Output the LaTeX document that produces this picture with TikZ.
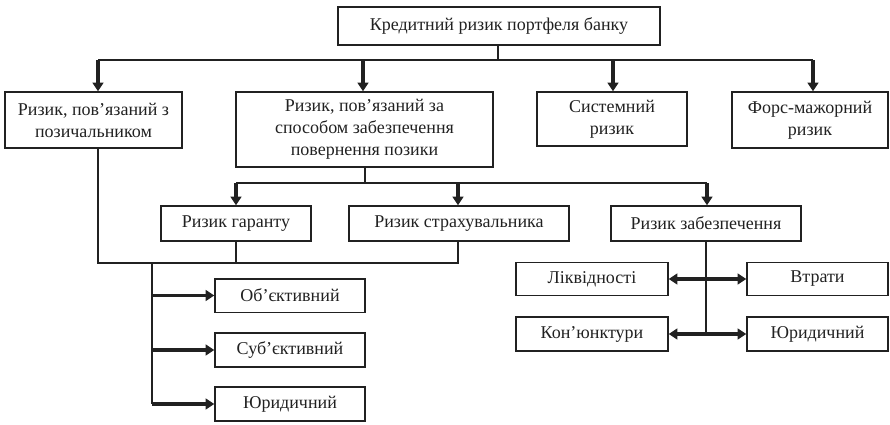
\documentclass[tikz,border=0pt]{standalone}
\usepackage{fontspec}
\setmainfont{Liberation Serif}
\usetikzlibrary{arrows.meta,calc}
\definecolor{LineClr}{rgb}{0.13,0.13,0.13}

\begin{document}
\begin{tikzpicture}[x=0.75pt,y=-0.75pt,
  box/.style={draw=LineClr,line width=1pt,inner sep=0pt,align=center,
    font=\fontsize{13.5}{16.5}\selectfont,text=LineClr},
  link/.style={draw=LineClr,line width=1pt},
  arr/.style={draw=LineClr,line width=2.6pt,-{Triangle[length=6.5pt,width=8pt]}},
  darr/.style={draw=LineClr,line width=2.6pt,{Triangle[length=6.5pt,width=8pt]}-{Triangle[length=6.5pt,width=8pt]}}]
\useasboundingbox (0,0) rectangle (890,425);

\node[box,minimum width=241.5pt,minimum height=28.5pt] (top) at (499,26) {Кредитний ризик портфеля банку};

\node[box,minimum width=132.75pt,minimum height=42pt] (borrow) at (93.5,120) {Ризик, пов'язаний з\\позичальником};
\node[box,minimum width=192.75pt,minimum height=56.25pt] (method) at (364.5,129.5) {Ризик, пов'язаний за\\способом забезпечення\\повернення позики};
\node[box,minimum width=112.5pt,minimum height=40.5pt] (system) at (612,119) {Системний\\ризик};
\node[box,minimum width=117pt,minimum height=42pt] (force) at (810,120) {Форс-мажорний\\ризик};

\node[box,minimum width=112.5pt,minimum height=26.25pt] (guar) at (236,223.5) {Ризик гаранту};
\node[box,minimum width=165pt,minimum height=26.25pt] (insur) at (459,223.5) {Ризик страхувальника};
\node[box,minimum width=142.5pt,minimum height=26.25pt] (secur) at (706,223.5) {Ризик забезпечення};

\node[box,minimum width=112.5pt,minimum height=25pt] (obj) at (290,295.5) {Об'єктивний};
\node[box,minimum width=112.5pt,minimum height=25.5pt] (subj) at (290,350) {Суб'єктивний};
\node[box,minimum width=112.5pt,minimum height=25.5pt] (legA) at (290,404) {Юридичний};

\node[box,minimum width=114pt,minimum height=24.5pt] (liq) at (592,279) {Ліквідності};
\node[box,minimum width=105.75pt,minimum height=24.5pt] (loss) at (817.5,279) {Втрати};
\node[box,minimum width=114pt,minimum height=25.5pt] (conj) at (592,334) {Кон'юнктури};
\node[box,minimum width=105.75pt,minimum height=25.5pt] (legB) at (817.5,334) {Юридичний};

\coordinate (busA) at (498,60);
\coordinate (busAl) at (98,60);
\coordinate (busAr) at (813,60);
\coordinate (busB) at (365,183);
\coordinate (busBl) at (236,183);
\coordinate (busBr) at (707,183);
\coordinate (busC) at (98,263);
\coordinate (busCr) at (458,263);
\coordinate (busD) at (152,263);
\coordinate (busDe) at (152,404);
\coordinate (busE) at (706,334);

\draw[link] (top.south -| busA) -- (busA);
\draw[link] (busAl) -- (busAr);
\draw[arr] (busAl) -- (busAl |- borrow.north);
\draw[arr] (363,60) -- (363,0 |- method.north);
\draw[arr] (613,60) -- (613,0 |- system.north);
\draw[arr] (busAr) -- (busAr |- force.north);

\draw[link] (method.south -| busB) -- (busB);
\draw[link] (busBl) -- (busBr);
\draw[arr] (busBl) -- (busBl |- guar.north);
\draw[arr] (busCr |- busB) -- (busCr |- insur.north);
\draw[arr] (busBr) -- (busBr |- secur.north);

\draw[link] (borrow.south -| busC) -- (busC) -- (busCr) -- (busCr |- insur.south);
\draw[link] (guar.south) -- (guar.south |- busC);
\draw[link] (busD) -- (busDe);
\draw[arr] (busD |- obj.west) -- (obj.west);
\draw[arr] (busD |- subj.west) -- (subj.west);
\draw[arr] (busDe) -- (legA.west);

\draw[link] (secur.south) -- (busE);
\draw[darr] (liq.east) -- (liq.east -| loss.west);
\draw[darr] (conj.east) -- (conj.east -| legB.west);

\end{tikzpicture}
\end{document}
